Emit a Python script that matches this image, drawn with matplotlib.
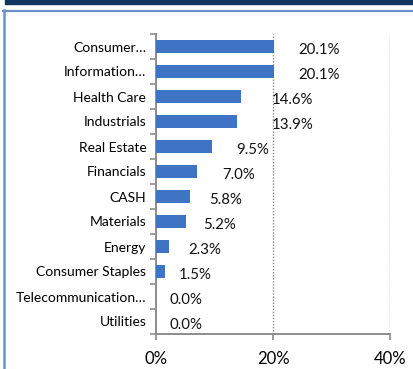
import matplotlib
matplotlib.use('Agg')
import matplotlib.pyplot as plt
from matplotlib.patches import Rectangle
from matplotlib.lines import Line2D

plt.rcParams['font.family'] = ['Lato', 'DejaVu Sans']

# sector weights (%)
sectors = ['Consumer\u2026', 'Information\u2026', 'Health Care', 'Industrials',
           'Real Estate', 'Financials', 'CASH', 'Materials', 'Energy',
           'Consumer Staples', 'Telecommunication\u2026', 'Utilities']
weights = [20.1, 20.1, 14.6, 13.9, 9.5, 7.0, 5.8, 5.2, 2.3, 1.5, 0.0, 0.0]
xticks = [0, 20, 40]
xtick_labels = ['0%', '20%', '40%']

# label nudges in points (Excel-style placement)
label_dx = [17.6, 17.6, 22, 25, 17.6, 18, 13.7, 12.2, 13.3, 10, 10, 10]

W, H = 414, 369
fig = plt.figure(figsize=(W / 100, H / 100), dpi=100)

# header band and panel frame
fig.patches.append(Rectangle((5 / W, 1 - 4 / H), 1, 4 / H, transform=fig.transFigure,
                             color='#10365f', zorder=0))
fig.lines.append(Line2D([3 / W, 1], [1 - 10.5 / H] * 2, transform=fig.transFigure,
                        color='#6a93cc', lw=1.6))
fig.lines.append(Line2D([4 / W] * 2, [0, 1 - 10 / H], transform=fig.transFigure,
                        color='#6a93cc', lw=1.8))

ax = fig.add_axes([156 / W, 1 - 334 / H, 234 / W, 300 / H])
ypos = list(range(len(sectors)))
ax.barh(ypos, weights, height=0.5, color='#3f74c4', zorder=3)

for y, v, dx in zip(ypos, weights, label_dx):
    ax.annotate(f'{v:.1f}%', (v, y), xytext=(dx, -2.2), textcoords='offset points',
                va='center', ha='left', fontsize=10.8, color='#111111')

ax.set_xlim(0, 40)
ax.set_ylim(len(sectors) - 0.5, -0.5)
ax.set_xticks(xticks)
ax.set_xticklabels(xtick_labels, fontsize=12)
ax.set_yticks(ypos)
ax.set_yticklabels(sectors, fontsize=10)
ax.set_yticks([i - 0.5 for i in range(len(sectors) + 1)], minor=True)

ax.tick_params(axis='y', which='major', length=0, pad=7)
ax.tick_params(axis='y', which='minor', length=4, width=1.2, color='#8c8c8c', direction='out')
ax.tick_params(axis='x', length=4, width=1.2, color='#8c8c8c', pad=8)

for x in xticks[1:]:
    ax.axvline(x, color='#8a8a8a', lw=1, ls=(0, (1, 1.2)), zorder=1)

for s in ['top', 'right']:
    ax.spines[s].set_visible(False)
for s in ['left', 'bottom']:
    ax.spines[s].set_color('#8c8c8c')
    ax.spines[s].set_linewidth(1.4)

fig.savefig('out.png', dpi=100)
